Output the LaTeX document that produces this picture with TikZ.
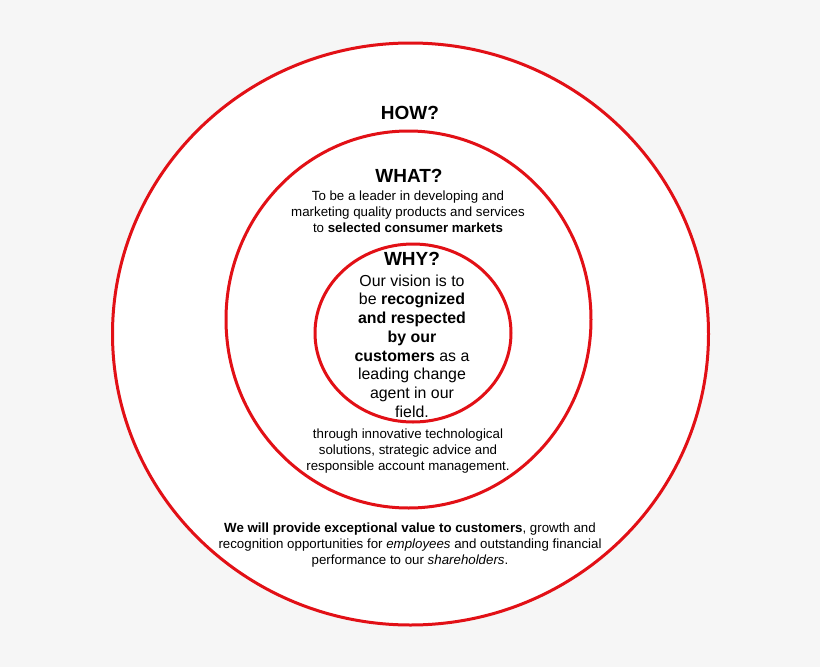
\documentclass[tikz,border=0pt]{standalone}
\usepackage{fontspec}
\setmainfont{Liberation Sans}
\tikzset{
	ring/.style = {draw=ringcolor, line width=3pt, fill=white},
	question/.style = {font=\fontsize{19}{22}\selectfont\bfseries, inner sep=0pt, anchor=base},
	answer/.style = {font=\fontsize{13.3}{16}\selectfont, align=center, inner sep=0pt},
	vision/.style = {font=\fontsize{15.9}{18.7}\selectfont, align=center, inner sep=0pt}
}
\definecolor{ringcolor}{RGB}{226,16,22}
\definecolor{backcolor}{RGB}{246,246,246}
\begin{document}
\begin{tikzpicture}[x=1pt, y=-1pt]
	\fill[backcolor] (0,0) rectangle (820,667);
	\useasboundingbox (0,0) rectangle (820,667);
	% how, what, why
	\foreach \cx/\cy/\rx/\ry in {410.5/334/298/291, 408.5/319.5/182.5/188.5, 413/333/98/89}
	{
		\draw[ring] (\cx,\cy) ellipse ({\rx} and {\ry});
	}
	\node[question] (how) at (410,119) {HOW?};
	\node[question] (what) at (409,182) {WHAT?};
	\node[answer] (whattext) at (408,211.5) {To be a leader in developing and\\
		marketing quality products and services\\
		to \textbf{selected consumer markets}};
	\node[question] (why) at (412,265) {WHY?};
	\node[vision] (whytext) at (412,346) {Our vision is to\\
		be \textbf{recognized}\\
		\textbf{and respected}\\
		\textbf{by our}\\
		\textbf{customers} as a\\
		leading change\\
		agent in our\\
		field.};
	\node[answer] (howtext) at (408,451.5) {through innovative technological\\
		solutions, strategic advice and\\
		responsible account management.};
	\node[answer] (valuetext) at (410,545) {\textbf{We will provide exceptional value to customers}, growth and\\
		recognition opportunities for \textit{employees} and outstanding financial\\
		performance to our \textit{shareholders}.};
\end{tikzpicture}
\end{document}
